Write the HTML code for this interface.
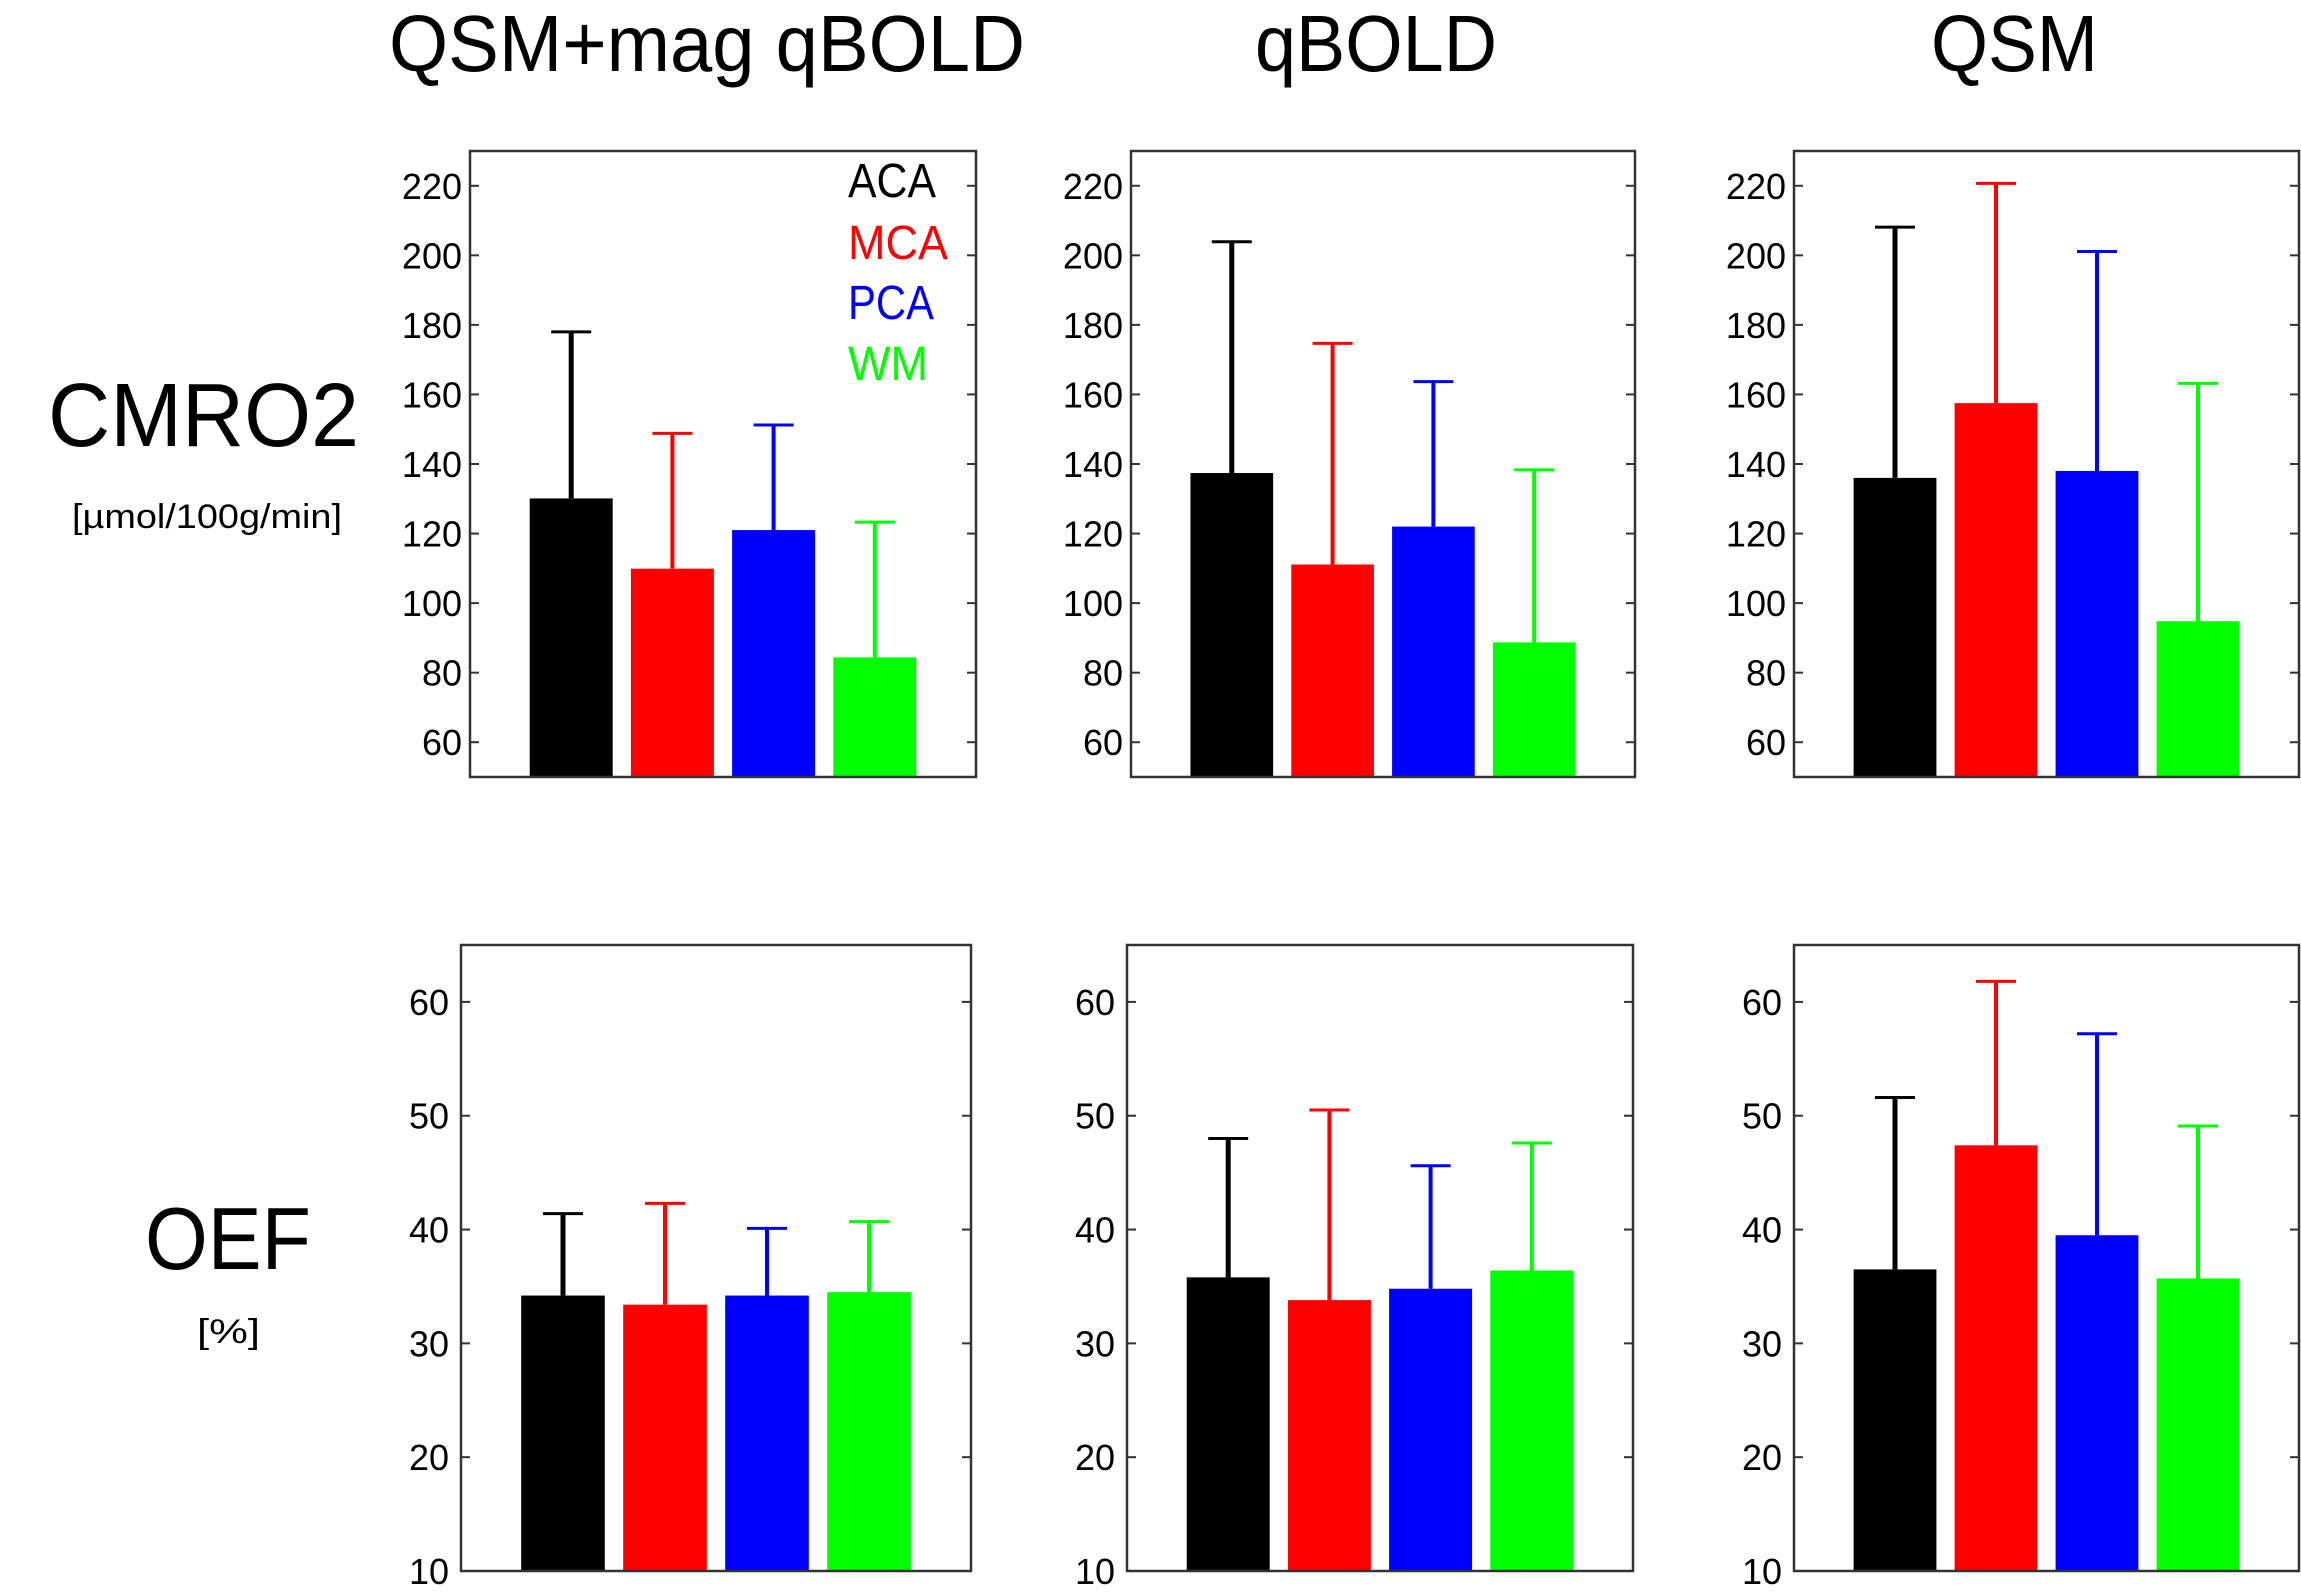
<!DOCTYPE html>
<html><head><meta charset="utf-8"><style>
html,body{margin:0;padding:0;background:#fff;}
svg{display:block;font-family:"Liberation Sans",sans-serif;}
</style></head><body>
<svg id="fig" width="2301" height="1593" viewBox="0 0 2301 1593" xmlns="http://www.w3.org/2000/svg">
<text x="389" y="71" font-size="80" textLength="636" lengthAdjust="spacingAndGlyphs">QSM+mag qBOLD</text>
<text x="1255" y="71" font-size="80" textLength="242" lengthAdjust="spacingAndGlyphs">qBOLD</text>
<text x="1931" y="71" font-size="80" textLength="167" lengthAdjust="spacingAndGlyphs">QSM</text>
<text x="48" y="446" font-size="90" textLength="311" lengthAdjust="spacingAndGlyphs">CMRO2</text>
<text x="72" y="528" font-size="34" textLength="270" lengthAdjust="spacingAndGlyphs">[µmol/100g/min]</text>
<text x="145" y="1269" font-size="88" textLength="166" lengthAdjust="spacingAndGlyphs">OEF</text>
<text x="197" y="1343" font-size="34" textLength="63" lengthAdjust="spacingAndGlyphs">[%]</text>
<g font-size="48">
<text x="848" y="197" fill="#000" textLength="88" lengthAdjust="spacingAndGlyphs">ACA</text>
<text x="848" y="259" fill="#ff0000" textLength="100" lengthAdjust="spacingAndGlyphs">MCA</text>
<text x="848" y="319" fill="#0000ff" textLength="86" lengthAdjust="spacingAndGlyphs">PCA</text>
<text x="848" y="380" fill="#00ff00" textLength="80" lengthAdjust="spacingAndGlyphs">WM</text>
</g>
</svg>
<script>
const categories = ["ACA","MCA","PCA","WM"];
const colors = ["#000000","#ff0000","#0000ff","#00ff00"];
const cmroTicks = [60,80,100,120,140,160,180,200,220];
const oefTicks = [10,20,30,40,50,60];
const cmroHybridMean = [130.1,109.9,121,84.4];
const cmroHybridErr = [178,148.8,151.2,123.3];
const cmroQboldMean = [137.4,111.1,122,88.7];
const cmroQboldErr = [203.9,174.7,163.7,138.3];
const cmroQsmMean = [136,157.5,138,94.8];
const cmroQsmErr = [208.1,220.7,201.1,163.2];
const oefHybridMean = [34.2,33.4,34.2,34.5];
const oefHybridErr = [41.4,42.3,40.1,40.7];
const oefQboldMean = [35.8,33.8,34.8,36.4];
const oefQboldErr = [48.0,50.5,45.6,47.6];
const oefQsmMean = [36.5,47.4,39.5,35.7];
const oefQsmErr = [51.6,61.8,57.2,49.1];

const NS="http://www.w3.org/2000/svg";
const svg=document.getElementById('fig');
function mk(tag,attrs,parent){const e=document.createElementNS(NS,tag);for(const k in attrs)e.setAttribute(k,attrs[k]);(parent||svg).appendChild(e);return e;}

const panels=[
 {name:'cmro2-qsm-mag-qbold',l:470,r:976,t:151,b:777,ymin:50,ymax:230,ticks:cmroTicks,mean:cmroHybridMean,err:cmroHybridErr,gap:8},
 {name:'cmro2-qbold',l:1131,r:1635,t:151,b:777,ymin:50,ymax:230,ticks:cmroTicks,mean:cmroQboldMean,err:cmroQboldErr,gap:8},
 {name:'cmro2-qsm',l:1794,r:2299,t:151,b:777,ymin:50,ymax:230,ticks:cmroTicks,mean:cmroQsmMean,err:cmroQsmErr,gap:8},
 {name:'oef-qsm-mag-qbold',l:461,r:971,t:945,b:1571,ymin:10,ymax:65,ticks:oefTicks,mean:oefHybridMean,err:oefHybridErr,gap:12},
 {name:'oef-qbold',l:1127,r:1633,t:945,b:1571,ymin:10,ymax:65,ticks:oefTicks,mean:oefQboldMean,err:oefQboldErr,gap:12},
 {name:'oef-qsm',l:1794,r:2299,t:945,b:1571,ymin:10,ymax:65,ticks:oefTicks,mean:oefQsmMean,err:oefQsmErr,gap:12}
];
panels.forEach(p=>{
 const g=mk('g',{});
 
 
 const ys=v=>p.b-(v-p.ymin)/(p.ymax-p.ymin)*(p.b-p.t);
 const unit=(p.r-p.l)/5;
 const xs=i=>p.l+unit*(i+1);
 categories.forEach((c,i)=>{
  const cx=xs(i), w=unit*0.82, y=ys(p.mean[i]);
  const bar=mk('rect',{x:cx-w/2,y:y,width:w,height:p.b-y,fill:colors[i]},g);
  
  
  const ye=ys(p.err[i]);
  const eb=mk('line',{x1:cx,x2:cx,y1:y,y2:ye,stroke:colors[i],'stroke-width':i===0?5:4},g);
  
  
  const cap=mk('line',{x1:cx-20,x2:cx+20,y1:ye,y2:ye,stroke:colors[i],'stroke-width':3},g);
  
  
 });
 p.ticks.forEach(t=>{
  const y=ys(t);
  mk('line',{x1:p.l,x2:p.l+9,y1:y,y2:y,stroke:'#333','stroke-width':2},g);
  mk('line',{x1:p.r-9,x2:p.r,y1:y,y2:y,stroke:'#333','stroke-width':2},g);
  const tx=mk('text',{x:p.l-p.gap,y:y+13,'font-size':36,'text-anchor':'end',fill:'#000'},g);
  tx.textContent=t;
  
  
 });
 const box=mk('rect',{x:p.l,y:p.t,width:p.r-p.l,height:p.b-p.t,fill:'none',stroke:'#333','stroke-width':2.5},g);
 
 
});
</script>
</body></html>
